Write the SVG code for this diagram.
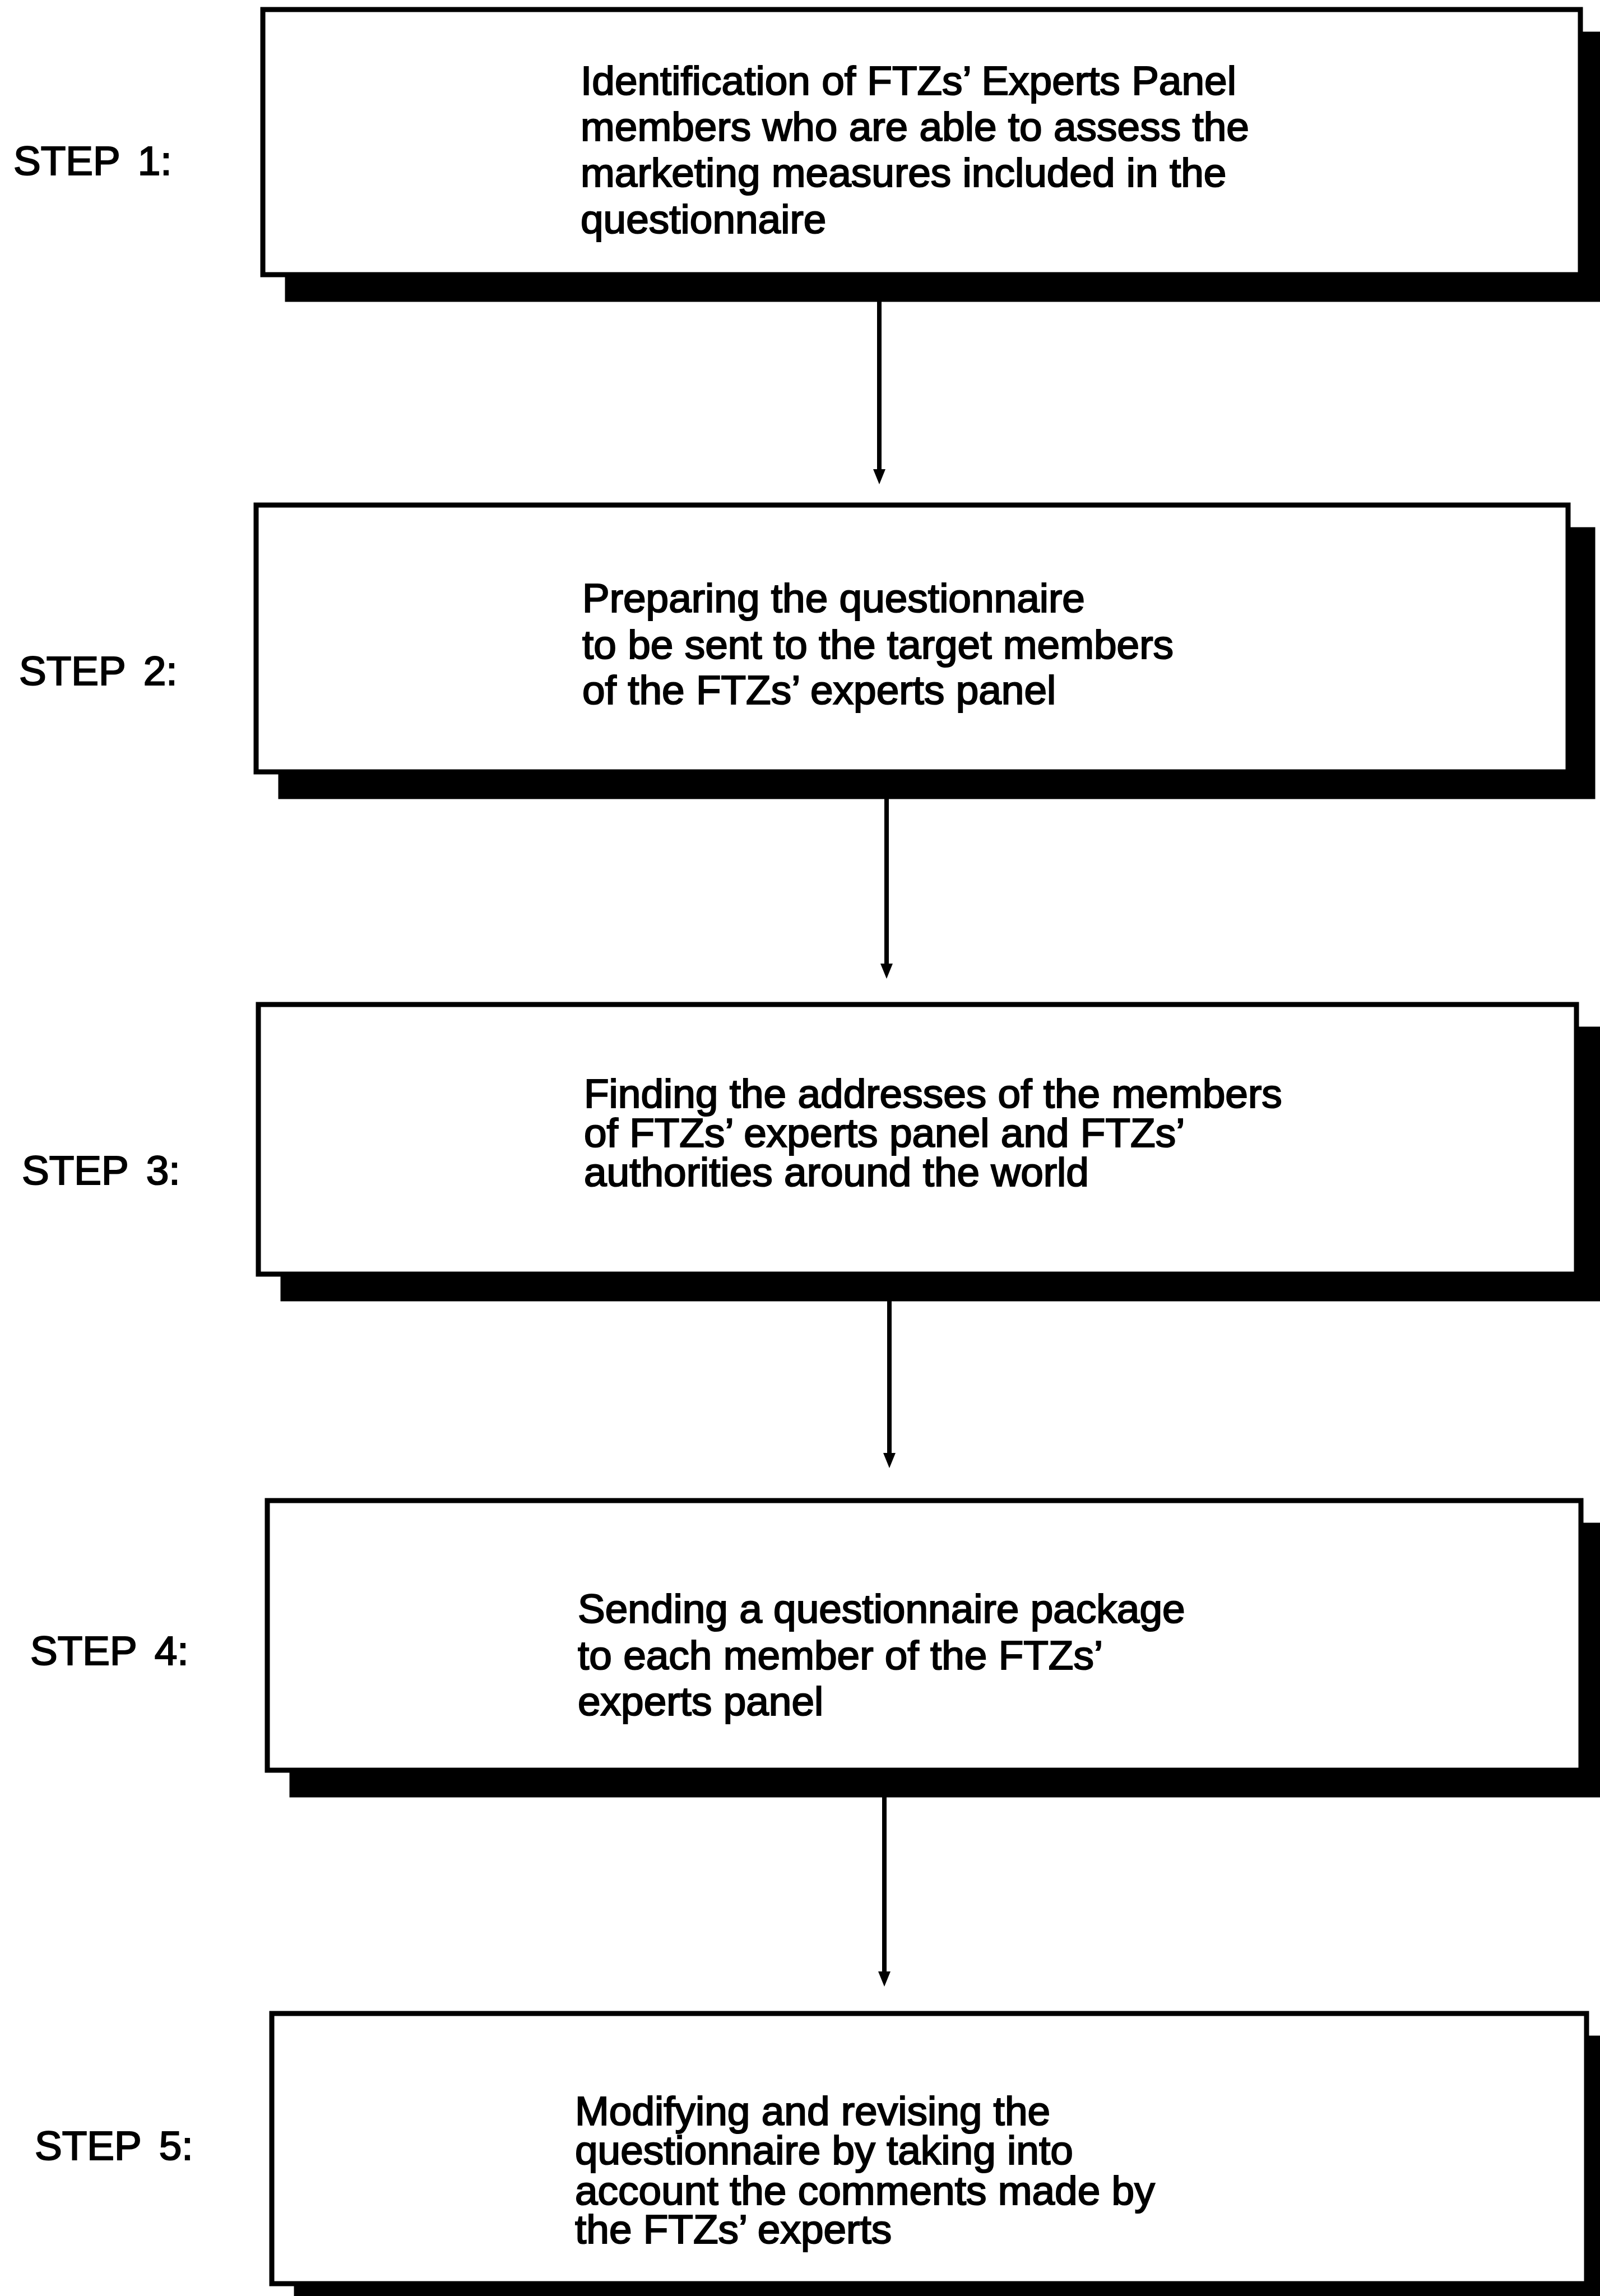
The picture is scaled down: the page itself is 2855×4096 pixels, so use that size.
<svg xmlns="http://www.w3.org/2000/svg" width="2855" height="4096" viewBox="0 0 2855 4096">
  <style>
    .box { fill: #ffffff; stroke: #000000; stroke-width: 9; }
    .shadow { fill: #000000; }
    .label { font-family: "Liberation Sans", Arial, sans-serif; font-size: 73px; fill: #000000; stroke: #000000; stroke-width: 2.2; }
    .step { font-family: "Liberation Sans", Arial, sans-serif; font-size: 73px; fill: #000000; stroke: #000000; stroke-width: 2.2; word-spacing: 12px; }
    .flow { stroke: #000000; stroke-width: 8; fill: none; marker-end: url(#head); }
  </style>
  <defs>
    <marker id="head" markerUnits="userSpaceOnUse" markerWidth="30" markerHeight="26" viewBox="0 -13 30 26" refX="7" refY="0" orient="auto">
      <path d="M0,-11 L27,0 L0,11 z" fill="#000000"/>
    </marker>
  </defs>
  <rect width="2855" height="4096" fill="#ffffff"/>

  <!-- step labels -->
  <g id="step-labels">
    <text class="step" x="24" y="312">STEP 1:</text>
    <text class="step" x="34" y="1222">STEP 2:</text>
    <text class="step" x="39" y="2113">STEP 3:</text>
    <text class="step" x="54" y="2970">STEP 4:</text>
    <text class="step" x="62" y="3853">STEP 5:</text>
  </g>

  <!-- step 1 -->
  <g id="step1">
    <rect class="shadow" x="508.5" y="56.5" width="2360" height="482"/>
    <rect class="box" x="469" y="17" width="2351" height="473"/>
    <text class="label" x="1036" y="169">Identification of FTZs’ Experts Panel</text>
    <text class="label" x="1036" y="251">members who are able to assess the</text>
    <text class="label" x="1036" y="333">marketing measures included in the</text>
    <text class="label" x="1036" y="416">questionnaire</text>
  </g>

  <!-- step 2 -->
  <g id="step2">
    <rect class="shadow" x="496.5" y="940.5" width="2350" height="485"/>
    <rect class="box" x="457" y="901" width="2341" height="476"/>
    <text class="label" x="1039" y="1092">Preparing the questionnaire</text>
    <text class="label" x="1039" y="1175">to be sent to the target members</text>
    <text class="label" x="1039" y="1256">of the FTZs’ experts panel</text>
  </g>

  <!-- step 3 -->
  <g id="step3">
    <rect class="shadow" x="500.5" y="1831.5" width="2361" height="490"/>
    <rect class="box" x="461" y="1792" width="2352" height="481"/>
    <text class="label" x="1042" y="1976">Finding the addresses of the members</text>
    <text class="label" x="1042" y="2046">of FTZs’ experts panel and FTZs’</text>
    <text class="label" x="1042" y="2116">authorities around the world</text>
  </g>

  <!-- step 4 -->
  <g id="step4">
    <rect class="shadow" x="516.5" y="2716.5" width="2353" height="490"/>
    <rect class="box" x="477" y="2677" width="2344" height="481"/>
    <text class="label" x="1031" y="2895">Sending a questionnaire package</text>
    <text class="label" x="1031" y="2978">to each member of the FTZs’</text>
    <text class="label" x="1031" y="3060">experts panel</text>
  </g>

  <!-- step 5 -->
  <g id="step5">
    <rect class="shadow" x="524.5" y="3631.5" width="2355" height="491"/>
    <rect class="box" x="485" y="3592" width="2346" height="482"/>
    <text class="label" x="1026" y="3791">Modifying and revising the</text>
    <text class="label" x="1026" y="3861">questionnaire by taking into</text>
    <text class="label" x="1026" y="3933">account the comments made by</text>
    <text class="label" x="1026" y="4002">the FTZs’ experts</text>
  </g>

  <!-- connectors between steps -->
  <g id="connectors">
    <line class="flow" x1="1569" y1="537" x2="1569" y2="844"/>
    <line class="flow" x1="1582" y1="1421" x2="1582" y2="1726"/>
    <line class="flow" x1="1587" y1="2317" x2="1587" y2="2599"/>
    <line class="flow" x1="1578" y1="3202" x2="1578" y2="3524"/>
  </g>
</svg>
